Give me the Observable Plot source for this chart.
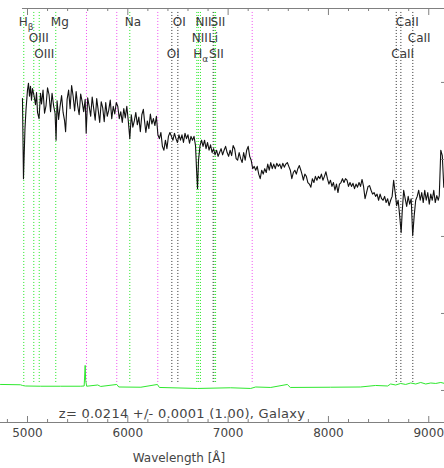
<!DOCTYPE html>
<html><head><meta charset="utf-8">
<script src="https://cdn.jsdelivr.net/npm/d3@7"></script>
<script src="https://cdn.jsdelivr.net/npm/@observablehq/plot@0.6"></script>
<style>html,body{margin:0;padding:0;background:#fff}svg{display:block}</style>
</head><body><div id="chart"></div>
<script>
// spectrum (wavelength in Å, flux)
const wave = [4950,4960,4975,4985,5000,5010,5020,5030,5040,5050,5065,5080,5090,5100,5115,5130,5140,5155,5170,5185,5200,5215,5230,5245,5260,5275,5285,5295,5310,5325,5340,5355,5370,5380,5395,5410,5425,5440,5455,5470,5485,5500,5515,5530,5545,5560,5575,5585,5600,5615,5630,5645,5660,5675,5690,5705,5720,5735,5750,5765,5780,5795,5810,5825,5840,5855,5870,5885,5900,5915,5930,5945,5960,5975,5990,6005,6020,6035,6050,6065,6080,6095,6110,6125,6140,6155,6165,6180,6195,6210,6225,6240,6255,6270,6285,6300,6315,6330,6345,6360,6375,6390,6405,6420,6435,6450,6465,6480,6495,6510,6525,6540,6555,6570,6585,6600,6615,6630,6645,6660,6675,6685,6695,6705,6720,6735,6750,6765,6780,6795,6810,6825,6840,6855,6870,6885,6900,6915,6930,6945,6960,6975,6990,7005,7020,7035,7050,7065,7080,7095,7110,7125,7140,7155,7170,7185,7200,7215,7230,7245,7260,7275,7290,7305,7320,7335,7350,7365,7380,7395,7410,7425,7440,7455,7470,7485,7500,7515,7530,7545,7560,7575,7590,7605,7620,7635,7650,7665,7680,7695,7710,7725,7740,7750,7765,7780,7795,7810,7825,7840,7855,7870,7885,7900,7915,7930,7945,7960,7975,7990,8005,8020,8035,8050,8065,8080,8095,8110,8125,8140,8155,8170,8185,8200,8215,8230,8245,8260,8275,8290,8305,8320,8335,8350,8365,8380,8395,8410,8425,8440,8455,8470,8485,8500,8515,8530,8545,8560,8575,8590,8605,8620,8635,8650,8665,8680,8695,8710,8725,8735,8750,8765,8780,8795,8810,8825,8840,8855,8870,8885,8900,8915,8930,8945,8960,8975,8990,9005,9020,9035,9050,9065,9080,9095,9105,9120,9135,9150];
const flux = [37.9,27.5,34.0,36.4,39.0,39.9,38.2,39.5,37.7,39.2,38.3,37.1,38.7,36.1,35.3,38.6,37.2,39.0,36.0,37.0,39.3,38.4,36.2,38.6,37.0,36.0,32.5,37.6,35.2,36.9,38.3,36.1,35.0,33.6,37.8,39.0,36.6,39.6,38.2,36.3,38.8,37.0,35.8,38.5,37.5,36.2,37.8,33.4,38.0,36.9,35.6,38.1,36.6,35.1,37.9,36.4,34.8,37.5,36.7,34.9,37.4,35.6,36.4,37.7,35.3,36.9,35.9,37.4,36.9,35.3,36.2,34.8,36.6,35.4,36.9,35.0,32.7,35.8,34.2,35.0,36.1,34.5,35.5,33.6,35.8,36.5,35.2,33.5,35.0,34.0,35.9,34.6,35.3,34.4,35.6,33.2,32.7,33.5,31.7,31.2,32.5,31.4,33.0,33.5,33.0,32.5,33.4,32.7,32.2,33.2,32.5,33.2,32.2,33.4,32.7,33.2,32.1,33.0,32.5,33.0,31.8,28.8,26.2,29.9,31.8,32.5,31.7,32.5,31.4,32.2,31.2,31.9,30.9,31.4,30.6,31.2,30.4,30.9,31.4,30.6,31.2,31.7,30.9,30.4,31.2,30.5,31.8,31.4,30.1,29.9,30.9,30.1,29.6,30.9,29.9,31.2,31.7,30.4,29.9,28.8,29.1,28.6,29.1,28.1,27.5,28.6,28.1,28.8,28.3,29.4,28.6,29.6,28.8,29.4,28.8,29.5,29.1,29.4,28.8,29.5,29.0,29.4,29.6,29.1,28.6,27.5,28.3,28.6,28.1,28.8,29.2,28.6,27.9,27.3,28.1,27.8,27.0,26.8,26.4,27.5,27.0,27.8,27.3,27.8,27.5,28.1,27.3,27.8,28.4,27.5,26.8,27.3,26.5,27.0,26.0,26.8,25.7,26.8,27.0,27.5,27.0,27.5,27.3,26.5,27.0,26.5,26.9,26.2,26.8,26.4,27.0,26.5,27.4,26.5,24.9,25.7,26.5,26.6,26.0,25.5,25.7,25.2,25.5,24.7,25.5,24.9,24.7,25.2,24.4,24.9,24.0,24.7,25.2,27.3,25.7,24.0,24.7,22.7,20.5,23.1,26.0,24.9,23.9,25.2,24.2,24.9,20.1,22.7,24.7,25.2,26.0,24.7,25.7,24.4,26.0,24.7,25.7,24.2,25.5,24.7,26.0,24.4,25.3,24.7,25.3,31.2,30.5,26.4];

// error spectrum
const errWave = [4731,4930,4950,4980,5130,5330,5530,5565,5575,5580,5590,5700,5730,5890,5910,6130,6295,6315,6695,7025,7225,7275,7425,7590,7620,8020,8320,8470,8590,8620,8670,8720,8770,8820,8870,8920,8970,9020,9070,9120,9157];
const errFlux = [0.78,0.74,0.65,0.58,0.55,0.55,0.55,0.58,3.25,1.3,0.55,0.71,0.52,0.78,0.45,0.42,0.78,0.39,0.26,0.35,0.26,0.45,0.39,0.78,0.39,0.42,0.45,0.65,0.58,0.84,0.71,0.91,0.78,0.97,0.84,1.04,0.84,0.97,0.91,1.04,0.91];

// marked lines
const lineWave = [4963,5063,5117,5282,6020,6439,6499,6688,6703,6724,6851,6860,6875,8676,8722,8841,5588,5890,6299,7240];
const lineKind = ["em","em","em","em","em","abs","abs","em","em","em","abs","em","em","abs","abs","abs","sky","sky","sky","sky"];

// line labels
const labelText = ["H","OIII","OIII","Mg","Na","OI","OI","NII","H","NII","Li","SII","SII","CaII","CaII","CaII"];
const labelWave = [4963,5063,5117,5282,6020,6439,6499,6688,6703,6724,6851,6860,6875,8676,8722,8841];
const labelRow = [1,2,3,1,1,3,1,2,3,1,2,3,1,3,1,2];
const subText = ["β","α"];
const subWave = [4963,6703];
const subRow = [1,3];

// axes
const xTicks = [5000,6000,7000,8000,9000];
const xMinor = [4800,5200,5400,5600,5800,6200,6400,6600,6800,7200,7400,7600,7800,8200,8400,8600,8800,9200];
const yTicks = [0,10,20,30,40];
const zText = "z= 0.0214 +/- 0.0001 (1.00), Galaxy";
const xLabel = "Wavelength [Å]";

// ---- drawing ----
const W = 444, H = 468, MT = 8, MB = 46;
const X0 = 4731, X1 = 9157, Y0 = -4.16, Y1 = 49.6;
const py = (Y1 - Y0) / (H - MT - MB);   // data units per pixel (y)
const px = (X1 - X0) / W;               // data units per pixel (x)
const rowY = r => Y1 - (14 + (r - 1) * 16) * py;
const axisColor = "#808080";
const kindColor = {em: "#22e822", abs: "#333333", sky: "#f050f0"};

const spectrum = wave.map((w, i) => ({w, f: flux[i]}));
const error = errWave.map((w, i) => ({w, f: errFlux[i]}));
const lines = lineWave.map((w, i) => ({w, kind: lineKind[i]}));
const labels = labelText.map((t, i) => ({t, w: labelWave[i], row: labelRow[i]}));
const subs = subText.map((t, i) => ({t, w: subWave[i], row: subRow[i]}));

const lineMarks = ["sky", "em", "abs"].map(k =>
  Plot.ruleX(lines.filter(d => d.kind === k), {
    x: "w", y1: 8 * py, y2: Y1 - 2 * py,
    stroke: kindColor[k], strokeWidth: 1, strokeDasharray: "1,2"
  })
);

const chart = Plot.plot({
  width: W, height: H,
  marginLeft: 0, marginRight: 0, marginTop: MT, marginBottom: MB,
  x: {domain: [X0, X1], axis: null},
  y: {domain: [Y0, Y1], axis: null},
  style: {fontFamily: "DejaVu Sans", background: "#fff", overflow: "visible"},
  marks: [
    ...lineMarks,
    Plot.line(error, {x: "w", y: "f", stroke: "#2ee82e", strokeWidth: 1}),
    Plot.line(spectrum, {x: "w", y: "f", stroke: "#111", strokeWidth: 1.1}),
    // frame / axes
    Plot.ruleY([Y0], {stroke: axisColor}),
    Plot.ruleY([Y1], {x1: 4950, x2: X1, stroke: axisColor}),
    Plot.ruleX(xTicks, {x: d => d, y1: Y0, y2: Y0 + 6 * py, stroke: axisColor}),
    Plot.ruleX(xMinor, {x: d => d, y1: Y0, y2: Y0 + 3 * py, stroke: axisColor}),
    Plot.ruleX(xTicks, {x: d => d, y1: Y1, y2: Y1 - 7 * py, stroke: axisColor}),
    Plot.ruleX(xMinor.filter(d => d > 4950), {x: d => d, y1: Y1, y2: Y1 - 3 * py, stroke: axisColor}),
    Plot.ruleY(yTicks, {y: d => d, x1: X1 - 3 * px, x2: X1, stroke: axisColor}),
    Plot.text(xTicks, {x: d => d, y: Y0, dy: 11, text: d => String(d), fontSize: 12, fill: "#444"}),
    Plot.text([xLabel], {x: 6510, y: Y0, dy: 36, text: d => d, fontSize: 12, fill: "#444"}),
    Plot.text([zText], {x: 6540, y: Y0, dy: -9, text: d => d, fontSize: 13, fill: "#444"}),
    // line labels
    Plot.text(labels, {x: "w", y: d => rowY(d.row), text: "t", textAnchor: "start", dx: -5, fontSize: 12, fill: "#3a3a3a"}),
    Plot.text(subs, {x: "w", y: d => rowY(d.row), text: "t", textAnchor: "start", dx: 4, dy: 5, fontSize: 9, fill: "#3a3a3a"})
  ]
});
document.getElementById("chart").appendChild(chart);
d3.select(chart).selectAll("text").filter(function () { return this.textContent === zText; })
  .attr("letter-spacing", "0.25px");
</script>
</body></html>
